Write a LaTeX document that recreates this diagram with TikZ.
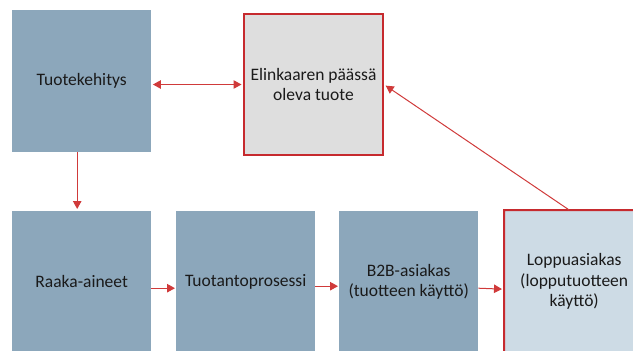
\documentclass[tikz,border=0pt]{standalone}
\usepackage{fontspec}
\setmainfont{Carlito}
\usetikzlibrary{arrows.meta}
\definecolor{boxblue}{HTML}{8CA7BB}
\definecolor{boxgray}{HTML}{DEDEDE}
\definecolor{boxlight}{HTML}{CDDBE5}
\definecolor{frame}{HTML}{C62A2E}
\definecolor{link}{HTML}{D03A3A}
\definecolor{ink}{HTML}{1A1A1A}
\tikzset{
  stage/.style={rectangle, anchor=north west, inner sep=0pt, align=center,
    text=ink, font=\fontsize{17.5}{20.5}\selectfont},
  plain/.style={stage, fill=boxblue},
  marked/.style={stage, draw=frame, line width=2pt},
  flow/.style={draw=link, line width=1pt, -{Triangle[length=8pt,width=8.5pt]}},
  twoway/.style={draw=link, line width=1pt,
    {Triangle[length=8pt,width=8.5pt]}-{Triangle[length=8pt,width=8.5pt]}}
}
\begin{document}
\begin{tikzpicture}[x=1pt,y=-1pt]
  \useasboundingbox (0,0) rectangle (633,351);
  \begin{scope}
    \clip (0,0) rectangle (633,351);
    % upper row
    \node[plain, minimum width=139pt, minimum height=142pt] (tk) at (12,10) {Tuotekehitys};
    \node[marked, fill=boxgray, minimum width=139pt, minimum height=141pt] (el) at (243,13)
      {Elinkaaren päässä\\oleva tuote};
    % lower row
    \node[plain, minimum width=139pt, minimum height=141pt] (ra) at (12,211) {Raaka-aineet};
    \node[plain, minimum width=139pt, minimum height=141pt] (tp) at (176,211) {Tuotantoprosessi};
    \node[plain, minimum width=139pt, minimum height=141pt] (bb) at (339,211)
      {B2B-asiakas\\(tuotteen käyttö)};
    % end customer box runs past the right and bottom edges
    \fill[boxlight] (504,210) rectangle (660,370);
    \node[stage, minimum width=140pt, minimum height=143pt] (lo) at (504,210)
      {Loppuasiakas\\(lopputuotteen\\käyttö)};
    \draw[frame, line width=2pt] (660,370) -- (lo.south west) -- (lo.north west) -- (660,210);
  \end{scope}
  % connectors
  \draw[twoway, shorten <=1.5pt, shorten >=1.5pt] (tk.east |- el.west) -- (el.west);
  \draw[flow, shorten >=2pt] ([xshift=-4.5pt]tk.south) -- ([xshift=-4.5pt]ra.north);
  \draw[flow, shorten >=1pt] ([yshift=-6.5pt]ra.east) -- ([yshift=-6.5pt]tp.west);
  \draw[flow, shorten >=1pt] ([yshift=-4.5pt]tp.east) -- ([yshift=-4.5pt]bb.west);
  \draw[flow, shorten >=2pt] ([yshift=-6.5pt]bb.east) -- ([yshift=-7.5pt]lo.west);
  \draw[flow, shorten >=2pt] ([xshift=-5pt]lo.north) -- (el.east);
\end{tikzpicture}
\end{document}
